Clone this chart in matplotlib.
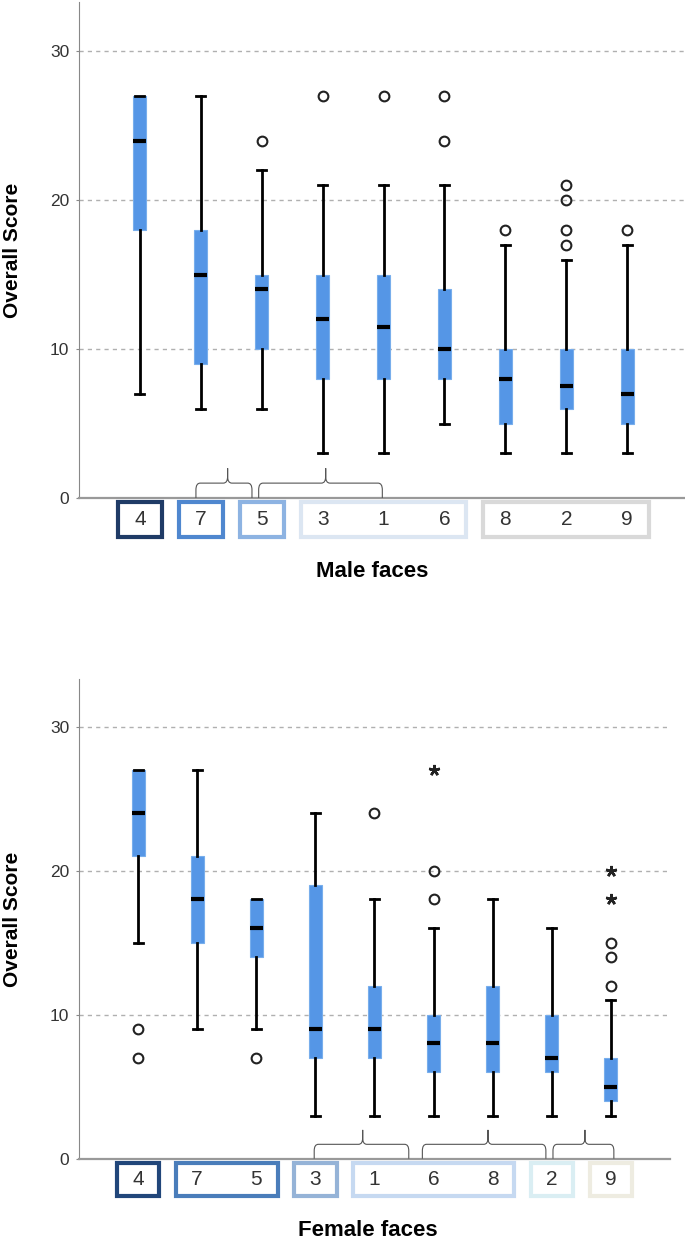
import numpy as np
import matplotlib.pyplot as plt
from matplotlib.path import Path
from matplotlib.patches import PathPatch, Rectangle

plt.rcParams['font.family'] = ['Liberation Sans', 'DejaVu Sans']

# Male faces (in plotted order)
faces_m = ['4', '7', '5', '3', '1', '6', '8', '2', '9']
lo_m = [7, 6, 6, 3, 3, 5, 3, 3, 3]
q1_m = [18, 9, 10, 8, 8, 8, 5, 6, 5]
med_m = [24, 15, 14, 12, 11.5, 10, 8, 7.5, 7]
q3_m = [27, 18, 15, 15, 15, 14, 10, 10, 10]
hi_m = [27, 27, 22, 21, 21, 21, 17, 16, 17]
out_m = [[], [], [24], [27], [27], [24, 27], [18], [17, 18, 20, 21], [18]]
ext_m = [[], [], [], [], [], [], [], [], []]

# Female faces (in plotted order)
faces_f = ['4', '7', '5', '3', '1', '6', '8', '2', '9']
lo_f = [15, 9, 9, 3, 3, 3, 3, 3, 3]
q1_f = [21, 15, 14, 7, 7, 6, 6, 6, 4]
med_f = [24, 18, 16, 9, 9, 8, 8, 7, 5]
q3_f = [27, 21, 18, 19, 12, 10, 12, 10, 7]
hi_f = [27, 27, 18, 24, 18, 16, 18, 16, 11]
out_f = [[7, 9], [], [7], [], [24], [18, 20], [], [], [12, 14, 15]]
ext_f = [[], [], [], [], [], [27], [], [], [18, 20]]

# groups of faces (first index, last index) and their frame colours
groups_m = [(0, 0), (1, 1), (2, 2), (3, 5), (6, 8)]
gcol_m = ['#1F3B66', '#4F87CF', '#8DB3E2', '#DCE6F2', '#D9D9D9']
groups_f = [(0, 0), (1, 2), (3, 3), (4, 6), (7, 7), (8, 8)]
gcol_f = ['#21467A', '#4A7DBA', '#95B3D7', '#C6D9F1', '#DAEEF3', '#EEECE1']

# braces: (left end, tip, right end) in box positions
braces_m = [(1.92, 2.44, 2.84), (2.95, 4.05, 4.98)]
braces_f = [(3.98, 4.80, 5.58), (5.81, 6.92, 7.90), (8.02, 8.56, 9.05)]

BOX_BLUE = '#5596E6'


def draw_brace(ax, x0, xt, x1, h1=1.0, h2=2.0):
    dx, dy = 0.07, 0.45
    verts = [(x0, 0), (x0, h1 - dy), (x0, h1), (x0 + dx, h1),
             (xt - dx, h1), (xt, h1), (xt, h1 + dy), (xt, h2),
             (x1, 0), (x1, h1 - dy), (x1, h1), (x1 - dx, h1),
             (xt + dx, h1), (xt, h1), (xt, h1 + dy), (xt, h2)]
    half = [Path.MOVETO, Path.LINETO, Path.CURVE3, Path.CURVE3,
            Path.LINETO, Path.CURVE3, Path.CURVE3, Path.LINETO]
    ax.add_patch(PathPatch(Path(verts, half + half), fc='none', ec='#555555',
                           lw=0.8, zorder=3))


def panel(ax, faces, lo, q1, med, q3, hi, out, ext, groups, gcol, braces,
          xmax, width):
    pos = np.arange(1, len(faces) + 1)
    stats = [dict(whislo=a, q1=b, med=c, q3=d, whishi=e, fliers=f)
             for a, b, c, d, e, f in zip(lo, q1, med, q3, hi, out)]
    ax.bxp(stats, positions=pos, widths=width, patch_artist=True,
           capwidths=0.15, showfliers=True,
           boxprops=dict(facecolor=BOX_BLUE, edgecolor='#78AEEC', lw=0.8),
           whiskerprops=dict(color='black', lw=2),
           capprops=dict(color='black', lw=2),
           medianprops=dict(color='black', lw=3, solid_capstyle='butt'),
           flierprops=dict(marker='o', mfc='none', mec='#222222', ms=7, mew=1.5))
    # extreme values drawn as stars
    for p, e in zip(pos, ext):
        if e:
            ax.plot([p] * len(e), e, ls='none', marker=(5, 2, 0),
                    color='#222222', ms=8, mew=1.8)

    ax.set_xlim(0, xmax)
    ax.set_ylim(0, 33.3)
    ax.set_xticks([])
    ax.set_yticks([0, 10, 20, 30])
    ax.tick_params(axis='y', length=2, color='#888888', labelsize=12.5,
                   labelcolor='#333333', pad=5)
    ax.yaxis.grid(True, ls=(0, (3, 3)), color='#B0B0B0', lw=1)
    ax.set_axisbelow(True)
    for s in ['top', 'right']:
        ax.spines[s].set_visible(False)
    ax.spines['left'].set_color('#888888')
    ax.spines['bottom'].set_color('#999999')
    ax.spines['bottom'].set_linewidth(1.6)

    for (a, b), c in zip(groups, gcol):
        ax.add_patch(Rectangle((pos[a] - 0.36, -2.6), pos[b] - pos[a] + 0.72, 2.3,
                               fc='none', ec=c, lw=3, clip_on=False))
    for p, f in zip(pos, faces):
        ax.text(p, -1.45, f, ha='center', va='center', fontsize=15,
                color='#333333', clip_on=False)
    for x0, xt, x1 in braces:
        draw_brace(ax, x0, xt, x1)


fig = plt.figure(figsize=(6.85, 12.41), dpi=100)
ax1 = fig.add_axes([0.1153, 0.5987, 0.883, 0.3997])
ax2 = fig.add_axes([0.1153, 0.0663, 0.8628, 0.3865])

panel(ax1, faces_m, lo_m, q1_m, med_m, q3_m, hi_m, out_m, ext_m,
      groups_m, gcol_m, braces_m, 9.93, 0.21)
panel(ax2, faces_f, lo_f, q1_f, med_f, q3_f, hi_f, out_f, ext_f,
      groups_f, gcol_f, braces_f, 10.0, 0.22)

fig.text(12 / 685, 1 - 250 / 1241, 'Overall Score', rotation=90, ha='center',
         va='center', fontsize=15, fontweight='bold')
fig.text(12 / 685, 1 - 919 / 1241, 'Overall Score', rotation=90, ha='center',
         va='center', fontsize=15, fontweight='bold')
fig.text(372 / 685, 1 - 571 / 1241, 'Male faces', ha='center', va='center',
         fontsize=16, fontweight='bold')
fig.text(368 / 685, 1 - 1230 / 1241, 'Female faces', ha='center', va='center',
         fontsize=16, fontweight='bold')

fig.savefig('out.png', dpi=100)
